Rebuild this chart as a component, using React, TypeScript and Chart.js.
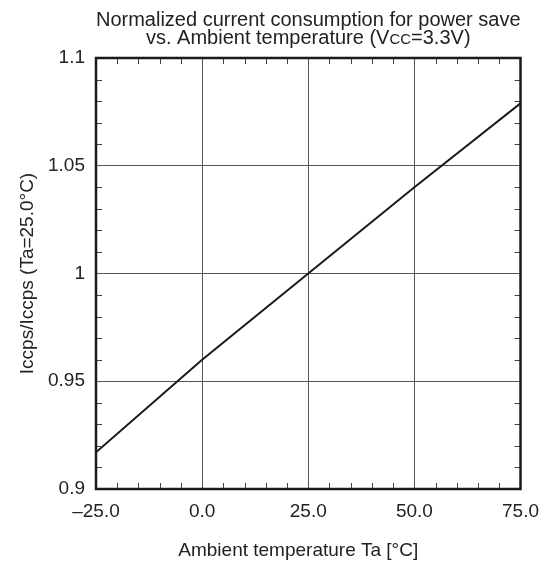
import React, { useEffect, useRef } from "react";
import { Chart, registerables } from "chart.js";

Chart.register(...registerables);

const temps = [-25, 0, 25, 50, 75];
const ratio = [0.917, 0.96, 1.0, 1.04, 1.079];
const xTickLabels = ["–25.0", "0.0", "25.0", "50.0", "75.0"];
const yTickLabels = ["0.9", "0.95", "1", "1.05", "1.1"];
const titleLine1 = "Normalized current consumption for power save";
const titleLine2Parts = [
  { t: "vs. Ambient temperature (V", small: false },
  { t: "CC", small: true },
  { t: "=3.3V)", small: false },
];
const xTitle = "Ambient temperature Ta [°C]";
const yTitle = "Iccps/Iccps (Ta=25.0°C)";

const FONT = "'Liberation Sans', Arial, sans-serif";
const TEXT = "#222";
const TITLE_SIZE = 20;
const SMALL_SIZE = 15;
const LABEL_SIZE = 19;

const framePlugin = {
  id: "frameMinor",
  afterDraw(chart: any) {
    const { ctx, chartArea: a, scales } = chart;
    const x = scales.x;
    const y = scales.y;
    ctx.save();
    ctx.strokeStyle = "#444";
    ctx.lineWidth = 1;
    const L = 6;
    for (let v = -25; v <= 75; v += 5) {
      if ((v + 25) % 25 === 0) continue;
      const px = Math.round(x.getPixelForValue(v)) + 0.5;
      ctx.beginPath();
      ctx.moveTo(px, a.bottom);
      ctx.lineTo(px, a.bottom - L);
      ctx.moveTo(px, a.top);
      ctx.lineTo(px, a.top + L);
      ctx.stroke();
    }
    for (let i = 0; i <= 20; i++) {
      if (i % 5 === 0) continue;
      const v = 0.9 + i * 0.01;
      const py = Math.round(y.getPixelForValue(v)) + 0.5;
      ctx.beginPath();
      ctx.moveTo(a.left, py);
      ctx.lineTo(a.left + L, py);
      ctx.moveTo(a.right, py);
      ctx.lineTo(a.right - L, py);
      ctx.stroke();
    }
    ctx.strokeStyle = "#1a1a1a";
    ctx.lineWidth = 2.5;
    ctx.strokeRect(a.left, a.top, a.right - a.left, a.bottom - a.top);

    // title
    ctx.fillStyle = TEXT;
    ctx.textBaseline = "alphabetic";
    ctx.textAlign = "left";
    const cx = (a.left + a.right) / 2;
    ctx.font = `${TITLE_SIZE}px ${FONT}`;
    const w1 = ctx.measureText(titleLine1).width;
    ctx.fillText(titleLine1, cx - w1 / 2, 18);
    let total = 0;
    const widths = titleLine2Parts.map((p) => {
      ctx.font = `${p.small ? SMALL_SIZE : TITLE_SIZE}px ${FONT}`;
      const w = ctx.measureText(p.t).width;
      total += w;
      return w;
    });
    let sx = cx - total / 2;
    titleLine2Parts.forEach((p, i) => {
      ctx.font = `${p.small ? SMALL_SIZE : TITLE_SIZE}px ${FONT}`;
      ctx.fillText(p.t, sx, 36);
      sx += widths[i];
    });

    // x axis title, slightly left of the plot centre as in the original
    ctx.font = `${LABEL_SIZE}px ${FONT}`;
    ctx.textAlign = "center";
    ctx.fillText(xTitle, cx - 10, 548);
    ctx.restore();
  },
};

export default function App() {
  const ref = useRef<HTMLCanvasElement>(null);
  useEffect(() => {
    if (!ref.current) return;
    const chart = new Chart(ref.current, {
      type: "line",
      data: {
        datasets: [
          {
            data: temps.map((t, i) => ({ x: t, y: ratio[i] })),
            borderColor: "#1a1a1a",
            borderWidth: 2,
            pointRadius: 0,
            fill: false,
            tension: 0,
          },
        ],
      },
      options: {
        animation: false,
        responsive: false,
        layout: { padding: { top: 50, right: 23, left: 0, bottom: 0 } },
        plugins: { legend: { display: false }, tooltip: { enabled: false }, title: { display: false } },
        scales: {
          x: {
            type: "linear",
            min: -25,
            max: 75,
            afterFit: (s: any) => { s.height = 77; },
            ticks: {
              stepSize: 25,
              padding: 11,
              color: TEXT,
              font: { family: FONT, size: LABEL_SIZE },
              callback: (_v: any, i: number) => xTickLabels[i],
            },
            grid: { color: "#555", lineWidth: 1, drawTicks: false },
            border: { display: false },
            title: { display: false },
          },
          y: {
            type: "linear",
            min: 0.9,
            max: 1.1,
            afterFit: (s: any) => { s.width = 88; },
            ticks: {
              stepSize: 0.05,
              padding: 11,
              color: TEXT,
              font: { family: FONT, size: LABEL_SIZE },
              callback: (_v: any, i: number) => yTickLabels[i],
            },
            grid: { color: "#555", lineWidth: 1, drawTicks: false },
            border: { display: false },
            title: {
              display: true,
              text: yTitle,
              color: TEXT,
              font: { family: FONT, size: LABEL_SIZE },
              padding: { top: 8, bottom: 0 },
            },
          },
        },
      },
      plugins: [framePlugin],
    } as any);
    return () => chart.destroy();
  }, []);
  return (
    <div style={{ width: 542, height: 558 }}>
      <canvas ref={ref} width={542} height={558} style={{ display: "block" }} />
    </div>
  );
}
